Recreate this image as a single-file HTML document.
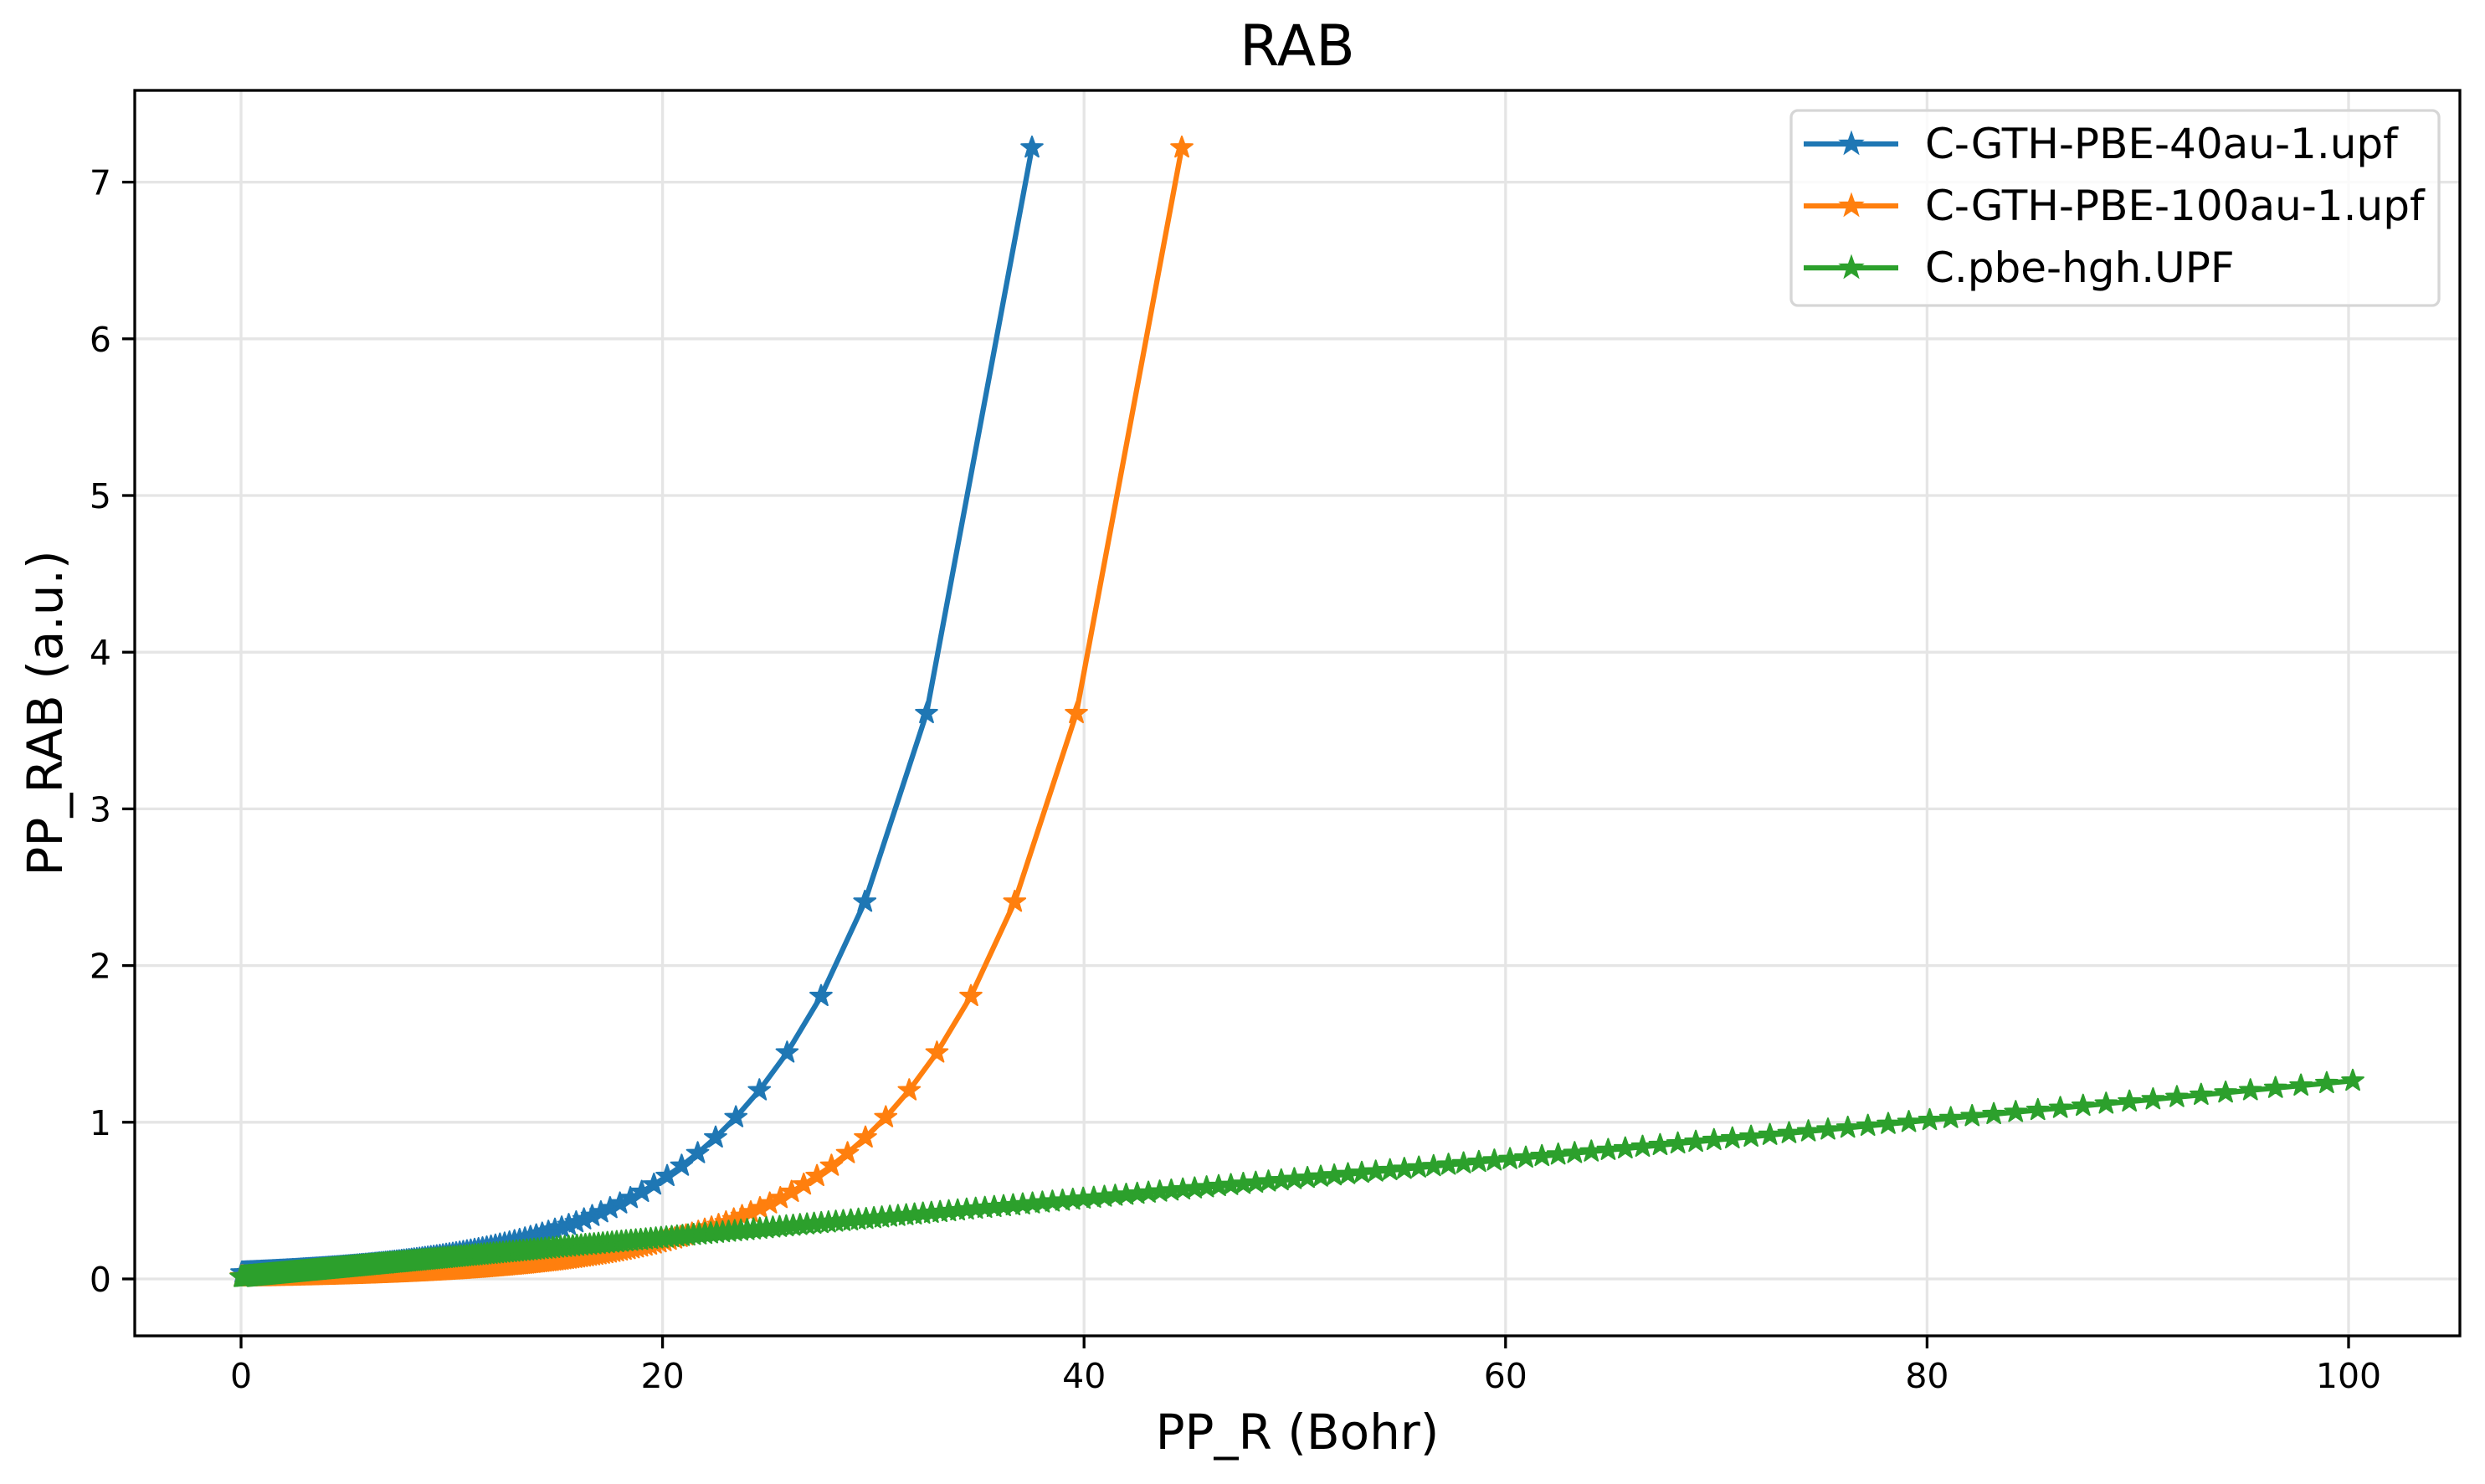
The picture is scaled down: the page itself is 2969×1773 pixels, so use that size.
<!DOCTYPE html>
<html><head><meta charset="utf-8"><style>
html,body{margin:0;padding:0;background:#fff;}
svg{display:block;font-family:"DejaVu Sans","Liberation Sans",sans-serif;}
</style></head><body>
<svg id="c" width="2969" height="1773" viewBox="0 0 2969 1773" xmlns="http://www.w3.org/2000/svg">
<rect width="2969" height="1773" fill="#fff"/>
<g id="grid" stroke="#e5e5e5" stroke-width="3.3"></g>
<g id="data"></g>
<rect x="161" y="108" width="2778" height="1488" fill="none" stroke="#000" stroke-width="3.3"/>
<g id="ticks" stroke="#000" stroke-width="3.3"></g>
<g id="tl" font-size="41" fill="#000"></g>
<text x="1550" y="78" font-size="68" text-anchor="middle">RAB</text>
<text x="1550" y="1731" font-size="58" text-anchor="middle">PP_R (Bohr)</text>
<text x="0" y="0" font-size="58" text-anchor="middle" transform="translate(74,852) rotate(-90)">PP_RAB (a.u.)</text>
<g id="legend">
<rect x="2140" y="132" width="774" height="233" rx="8" fill="#fff" fill-opacity="0.8" stroke="#d6d6d6" stroke-width="3.3"/>
<text x="2300" y="189" font-size="50">C-GTH-PBE-40au-1.upf</text>
<text x="2300" y="263" font-size="50">C-GTH-PBE-100au-1.upf</text>
<text x="2300" y="337" font-size="50">C.pbe-hgh.UPF</text>
</g>
</svg>
<script>
var X0=288,SX=25.18,Y0=1528,SY=187.2;
function px(x){return X0+x*SX} function py(y){return Y0-y*SY}
var g=document.getElementById('grid'),t=document.getElementById('ticks'),tl=document.getElementById('tl');
var NS='http://www.w3.org/2000/svg';
function el(p,n,a,txt){var e=document.createElementNS(NS,n);for(var k in a)e.setAttribute(k,a[k]);if(txt!=null)e.textContent=txt;p.appendChild(e);return e}
for(var v=0;v<=100;v+=20){var x=px(v);el(g,'line',{x1:x,x2:x,y1:108,y2:1596});el(t,'line',{x1:x,x2:x,y1:1596,y2:1611});el(tl,'text',{x:x,y:1658,'text-anchor':'middle'},v)}
for(var v=0;v<=7;v++){var y=py(v);el(g,'line',{x1:161,x2:2939,y1:y,y2:y});el(t,'line',{x1:146,x2:161,y1:y,y2:y});el(tl,'text',{x:133,y:y+15,'text-anchor':'end'},v)}
function star(cx,cy,R){var r=R*0.4,s='';for(var i=0;i<10;i++){var a=-Math.PI/2+i*Math.PI/5,rr=i%2?r:R;s+=(i?'L':'M')+(cx+rr*Math.cos(a)).toFixed(1)+' '+(cy+rr*Math.sin(a)).toFixed(1)}return s+'Z'}
function series(pts,col){var d=document.getElementById('data');var l='',m='';pts.forEach(function(p,i){var x=px(p[0]),y=py(p[1]);l+=(i?'L':'M')+x.toFixed(1)+' '+y.toFixed(1);m+=star(x,y,13.5)});
el(d,'path',{d:l,fill:'none',stroke:col,'stroke-width':6.25,'stroke-linejoin':'round'});el(d,'path',{d:m,fill:col,stroke:col,'stroke-width':2,'stroke-linejoin':'round'})}
function gth(C,A){var p=[];for(var k=1;;k++){var r=C-A*Math.log(k);if(r<0)break;p.push([r,A*Math.exp((r-C)/A)])}return p.reverse()}
series(gth(37.53,7.22),'#1f77b4');
series(gth(44.64,7.22),'#ff7f0e');
var gp=[];for(var r=100.2;r>0.005;r/=1.0125)gp.push([r,0.0125*r+0.012]);gp.push([0,0.012]);series(gp.reverse(),'#2ca02c');
var lg=document.getElementById('legend');[['#1f77b4',172],['#ff7f0e',246],['#2ca02c',320]].forEach(function(c){el(lg,'line',{x1:2155,x2:2268,y1:c[1],y2:c[1],stroke:c[0],'stroke-width':6.25});el(lg,'path',{d:star(2212,c[1],13.5),fill:c[0],stroke:c[0],'stroke-width':2})});
</script>
</body></html>
